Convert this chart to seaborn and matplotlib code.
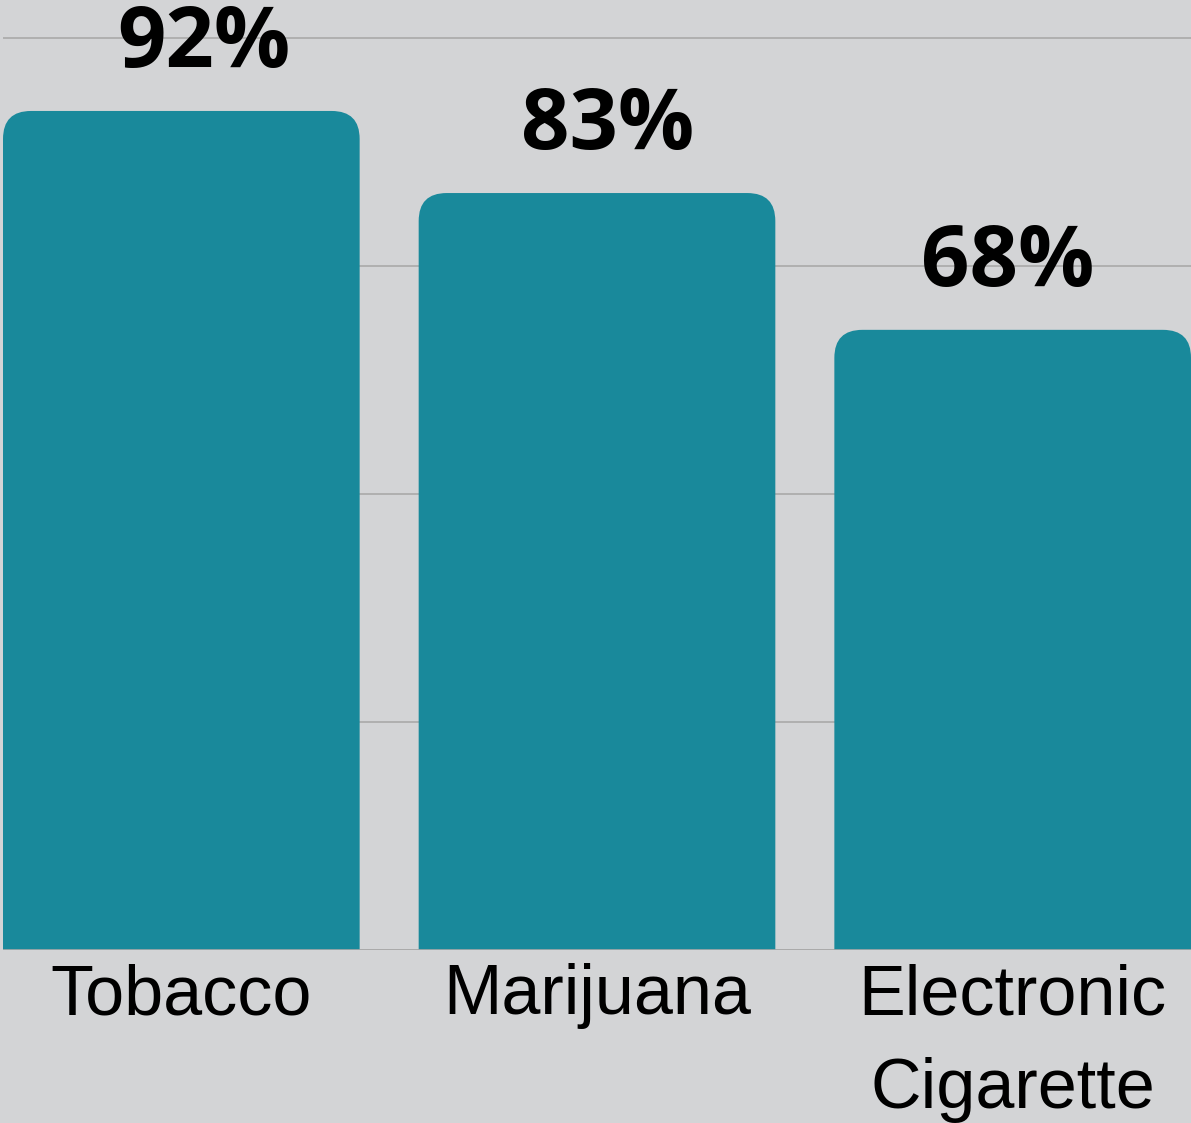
import matplotlib
matplotlib.use("Agg")
import matplotlib.pyplot as plt
import seaborn as sns
from matplotlib.patches import FancyBboxPatch

# data
categories = ["Tobacco", "Marijuana", "Electronic\nCigarette"]
values = [92, 83, 68]
value_labels = ["92%", "83%", "68%"]

# style
BG = "#d3d4d6"
BAR_COLOR = "#19899b"
GRID_COLOR = "#a9a9a9"
BAR_WIDTH = 0.858
label_dx = [0.055, 0.026, -0.012]  # value labels sit a little off-centre in the original

sns.set_style("white", {"axes.facecolor": BG, "figure.facecolor": BG})
plt.rcParams["font.family"] = ["Liberation Sans", "DejaVu Sans"]
plt.rcParams["text.color"] = "black"
plt.rcParams["xtick.color"] = "black"

W, H, DPI = 1191, 1123, 100
fig = plt.figure(figsize=(W / DPI, H / DPI), dpi=DPI)
ax = fig.add_axes([3 / W, 173 / H, 1188 / W, 930 / H])

sns.barplot(x=categories, y=values, color=BAR_COLOR, width=BAR_WIDTH,
            saturation=1, ax=ax, zorder=2)

half = BAR_WIDTH / 2
ax.set_xlim(-half, len(categories) - 1 + half)
ax.set_ylim(0, 930 / 9.12)

# swap plain bars for ones with rounded tops
bbox = ax.get_window_extent()
x_per_px = (ax.get_xlim()[1] - ax.get_xlim()[0]) / bbox.width
y_per_px = (ax.get_ylim()[1] - ax.get_ylim()[0]) / bbox.height
radius_px = 28
r = radius_px * x_per_px
aspect = y_per_px / x_per_px
for p in list(ax.patches):
    x0, w, h = p.get_x(), p.get_width(), p.get_height()
    p.remove()
    ry = radius_px * y_per_px
    ax.add_patch(FancyBboxPatch((x0, -ry), w, h + ry,
                                boxstyle=f"round,pad=0,rounding_size={r}",
                                mutation_aspect=aspect, fc=BAR_COLOR,
                                ec="none", zorder=2))

# gridlines
ax.set_yticks([0, 25, 50, 75, 100])
ax.yaxis.grid(True, color=GRID_COLOR, linewidth=1.2, zorder=0)
ax.set_axisbelow(True)
ax.axhline(0, color=GRID_COLOR, linewidth=1.2, zorder=3)
ax.tick_params(axis="y", left=False, labelleft=False)
ax.tick_params(axis="x", bottom=False, pad=6, labelsize=50.5, labelcolor="black")
for t in ax.get_xticklabels():
    t.set_linespacing(1.55)
sns.despine(ax=ax, left=True, bottom=True)
ax.set_xlabel("")
ax.set_ylabel("")

for i, (v, lab) in enumerate(zip(values, value_labels)):
    ax.annotate(lab, (i + label_dx[i], v), xytext=(0, 31.5),
                textcoords="offset points", ha="center", va="baseline",
                fontsize=61, fontweight="bold", color="black",
                family=["Open Sans", "DejaVu Sans"], zorder=4,
                annotation_clip=False)

fig.savefig("out.png", dpi=DPI, facecolor=BG)
